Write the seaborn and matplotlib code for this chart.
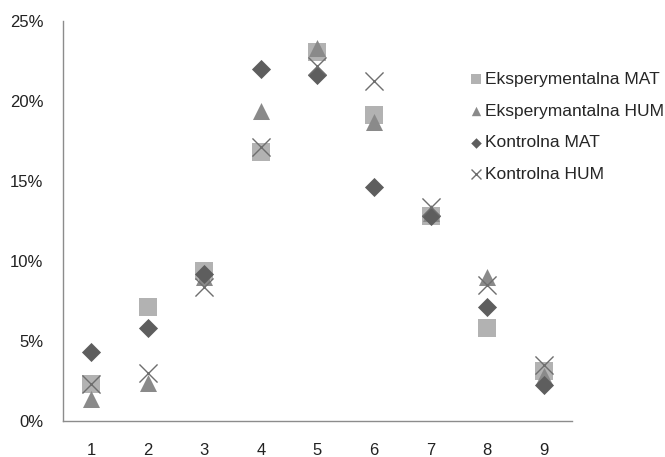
import matplotlib
matplotlib.use("Agg")
import matplotlib.pyplot as plt
import seaborn as sns
import pandas as pd

categories = [1, 2, 3, 4, 5, 6, 7, 8, 9]
eksp_mat = [2.3, 7.1, 9.4, 16.8, 23.05, 19.1, 12.8, 5.8, 3.1]
eksp_hum = [1.4, 2.4, 9.0, 19.4, 23.3, 18.7, 13.0, 9.0, 2.8]
kontr_mat = [4.3, 5.8, 9.2, 22.0, 21.6, 14.6, 12.8, 7.1, 2.25]
kontr_hum = [2.3, 3.0, 8.4, 17.1, 22.2, 21.25, 13.4, 8.5, 3.5]
series_names = ["Eksperymentalna MAT", "Eksperymantalna HUM", "Kontrolna MAT", "Kontrolna HUM"]
y_ticks = [0, 5, 10, 15, 20, 25]

rows = []
for name, vals in zip(series_names, [eksp_mat, eksp_hum, kontr_mat, kontr_hum]):
    for c, v in zip(categories, vals):
        rows.append({"cat": c, "val": v, "series": name})
df = pd.DataFrame(rows)

sns.set_style("white")
plt.rcParams["font.family"] = ["Liberation Sans", "DejaVu Sans"]

fig = plt.figure(figsize=(6.65, 4.57), dpi=100)
ax = fig.add_axes([0.0947, 0.0788, 0.7653, 0.8752])

colors = {"Eksperymentalna MAT": "#b2b2b2", "Eksperymantalna HUM": "#8a8a8a",
          "Kontrolna MAT": "#5e5e5e", "Kontrolna HUM": "#6e6e6e"}
markers = {"Eksperymentalna MAT": "s", "Eksperymantalna HUM": "^",
           "Kontrolna MAT": "D", "Kontrolna HUM": "x"}
sizes = {"Eksperymentalna MAT": 150, "Eksperymantalna HUM": 150,
         "Kontrolna MAT": 95, "Kontrolna HUM": 170}

for name in series_names:
    sub = df[df["series"] == name]
    kw = dict(linewidth=0) if markers[name] != "x" else dict(linewidth=1.0)
    sns.scatterplot(data=sub, x="cat", y="val", marker=markers[name], color=colors[name],
                    s=sizes[name], ax=ax, label=name, **kw)

ax.set_xlim(0.5, 9.5)
ax.set_ylim(0, 25)
ax.set_xticks(categories)
ax.set_xticklabels([str(c) for c in categories])
ax.set_yticks(y_ticks)
ax.set_yticklabels([f"{t}%" for t in y_ticks])
ax.set_xlabel("")
ax.set_ylabel("")
for s in ["top", "right"]:
    ax.spines[s].set_visible(False)
for s in ["left", "bottom"]:
    ax.spines[s].set_color("#8c8c8c")
    ax.spines[s].set_linewidth(1.0)
ax.tick_params(axis="both", length=0, labelsize=12, colors="#222222")
ax.tick_params(axis="x", pad=16)
ax.tick_params(axis="y", pad=14)

leg = ax.legend(loc="upper left", bbox_to_anchor=(0.69, 0.862), bbox_transform=fig.transFigure,
                frameon=False, fontsize=12.5, handletextpad=0.0, labelspacing=0.95,
                markerscale=0.55, handlelength=1.0, borderpad=0)

fig.savefig("out.png", dpi=100)
